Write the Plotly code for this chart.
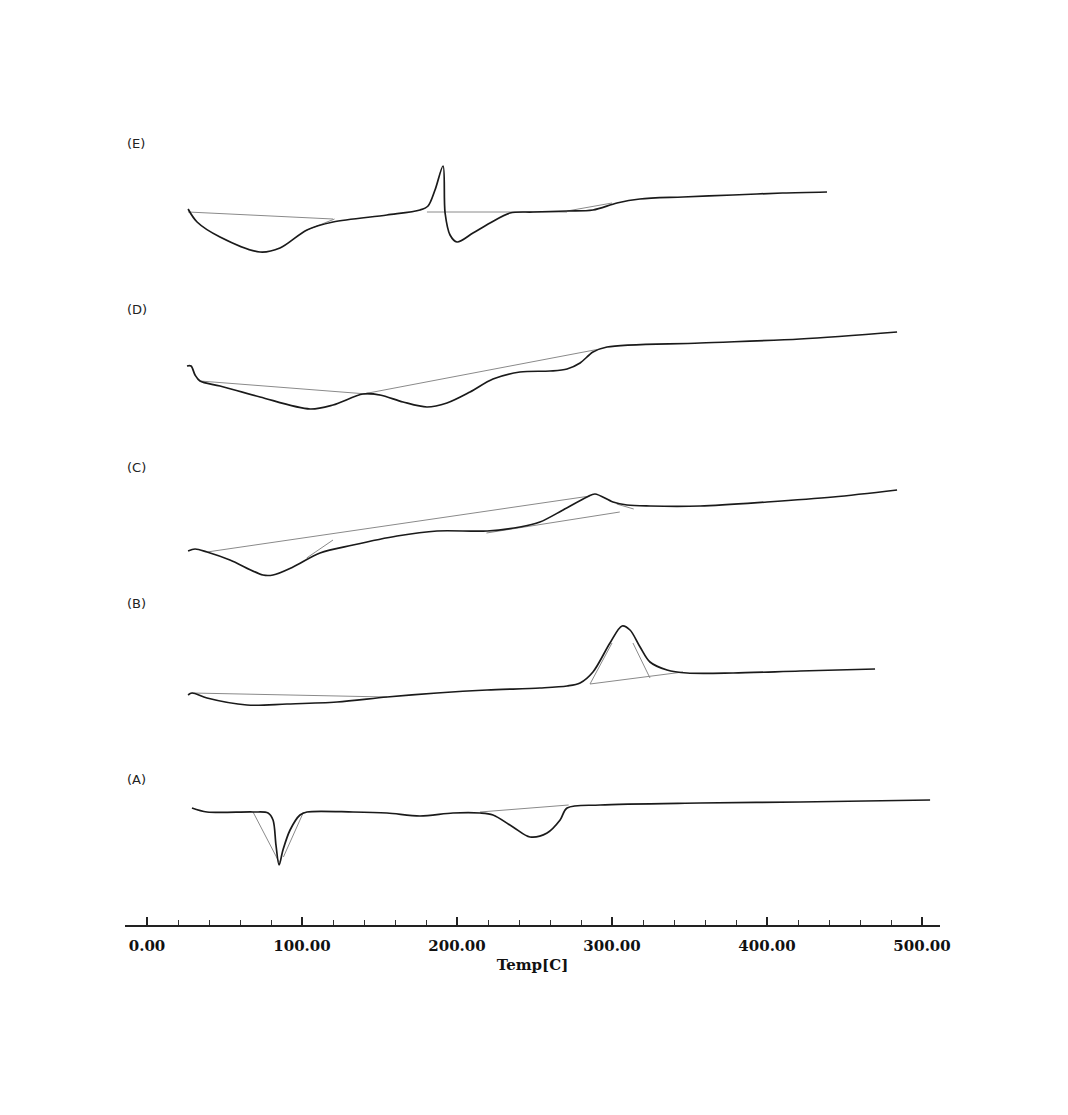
import plotly.graph_objects as go

# ---------------- data (temperature in C, stacked heat-flow signal in a.u.) ----------------
temp_E = [26.5, 32.3, 47.1, 72.9, 85.8, 103.2, 120.0, 154.8, 176.1, 181.3, 185.8, 191.0,
          192.3, 195.5, 200.0, 210.3, 221.3, 234.2, 249.0, 271.0, 287.7, 303.2, 318.0,
          345.8, 378.0, 410.0, 438.7]
flow_E = [716, 703, 688, 673, 677, 695, 703, 710, 715, 719, 735, 759,
          712, 690, 683, 692, 702, 712, 713, 714, 715, 722, 726,
          728, 730, 732, 733]

temp_D = [25.8, 28.4, 31.0, 34.2, 47.1, 72.9, 105.2, 120.0, 139.4, 150.3, 165.2, 180.6,
          193.5, 208.4, 223.2, 240.6, 260.0, 271.0, 279.4, 287.7, 296.8, 356.8, 421.3, 483.9]
flow_D = [559, 559, 550, 544, 539, 528, 516, 520, 531, 530, 523, 518,
          522, 533, 546, 553, 554, 556, 562, 573, 578, 582, 586, 593]

temp_C = [26.5, 31.0, 38.7, 53.5, 74.8, 81.3, 94.2, 111.6, 132.9, 161.3, 187.1, 219.4,
          240.6, 253.5, 268.4, 283.9, 289.0, 300.6, 309.7, 324.5, 356.8, 400.0, 442.6, 483.9]
flow_C = [374, 376, 373, 365, 350, 350, 358, 372, 380, 389, 394, 394,
          398, 403, 415, 428, 431, 423, 420, 419, 419, 423, 428, 435]

temp_B = [26.5, 29.0, 38.7, 64.5, 90.3, 122.6, 154.8, 187.1, 219.4, 253.5, 271.0, 279.4,
          287.7, 298.7, 306.5, 311.6, 318.1, 324.5, 335.5, 348.4, 378.1, 421.3, 469.7]
flow_B = [230, 232, 227, 220, 221, 223, 228, 232, 235, 237, 239, 242,
          253, 282, 299, 295, 278, 263, 255, 252, 252, 254, 256]

temp_A = [29.0, 38.7, 68.4, 78.1, 81.3, 83.2, 85.2, 87.7, 92.3, 98.7, 103.2, 132.9,
          154.8, 176.1, 197.4, 214.8, 223.2, 236.1, 247.1, 258.1, 266.5, 271.0, 292.3,
          356.8, 421.3, 505.2]
flow_A = [117, 113, 113, 112, 105, 80, 60, 75, 95, 110, 113, 113,
          112, 109, 112, 112, 110, 98, 88, 92, 105, 117, 120,
          122, 123, 125]

# construction (baseline / tangent) segments: [T0, T1], [v0, v1]
base_temp = [[26.5, 120.0], [103.2, 121.0], [180.6, 271.0], [271.0, 300.0],
             [34.2, 150.3], [139.4, 292.0],
             [38.7, 285.8], [103.0, 120.0], [219.0, 305.0], [303.0, 314.0],
             [29.0, 154.8], [285.8, 345.8], [285.8, 300.0], [313.5, 324.5],
             [68.4, 85.2], [88.0, 101.0], [214.8, 272.0]]
base_flow = [[713, 706], [695, 706], [713, 713], [714, 722],
             [544, 530], [531, 576],
             [373, 429], [367, 385], [392, 413], [421, 416],
             [232, 228], [241, 253], [241, 282], [282, 247],
             [113, 63], [68, 113], [113, 120]]

tick_vals = [0, 100, 200, 300, 400, 500]
panel_labels = ["(E)", "(D)", "(C)", "(B)", "(A)"]
panel_label_y = [782, 616, 458, 322, 146]

# ---------------- figure ----------------
fig = go.Figure()

bx, by = [], []
for t, f in zip(base_temp, base_flow):
    bx += t + [None]
    by += f + [None]
fig.add_trace(go.Scatter(x=bx, y=by, mode="lines",
                         line=dict(color="#8a8a8a", width=1), hoverinfo="skip"))

for t, f in [(temp_E, flow_E), (temp_D, flow_D), (temp_C, flow_C),
             (temp_B, flow_B), (temp_A, flow_A)]:
    fig.add_trace(go.Scatter(x=t, y=f, mode="lines",
                             line=dict(color="#1a1a1a", width=1.7,
                                       shape="spline", smoothing=0.9)))

for lab, yy in zip(panel_labels, panel_label_y):
    fig.add_annotation(x=-14.0, y=yy, text=lab, showarrow=False, xanchor="left",
                       yanchor="middle",
                       font=dict(family="DejaVu Sans", size=13, color="#222"))

fig.update_layout(
    width=1068, height=1115,
    margin=dict(l=117, r=136, t=92, b=198),
    paper_bgcolor="white", plot_bgcolor="white",
    showlegend=False,
    xaxis=dict(range=[-14.2, 511.6], showgrid=False, zeroline=False,
               showline=True, linecolor="#222", linewidth=1.5,
               ticks="inside", ticklen=8, tickwidth=1.5, tickcolor="#222",
               tickvals=tick_vals, tickformat=".2f",
               minor=dict(dtick=20, ticks="inside", ticklen=5, tickwidth=1, tickcolor="#333"),
               ticklabelstandoff=6,
               tickfont=dict(family="DejaVu Serif", size=15, color="#111", weight="bold"),
               title=dict(text="Temp[C]", standoff=6,
                          font=dict(family="DejaVu Serif", size=15, color="#111", weight="bold"))),
    yaxis=dict(range=[0, 825], visible=False),
)

fig.write_html("out.html")
